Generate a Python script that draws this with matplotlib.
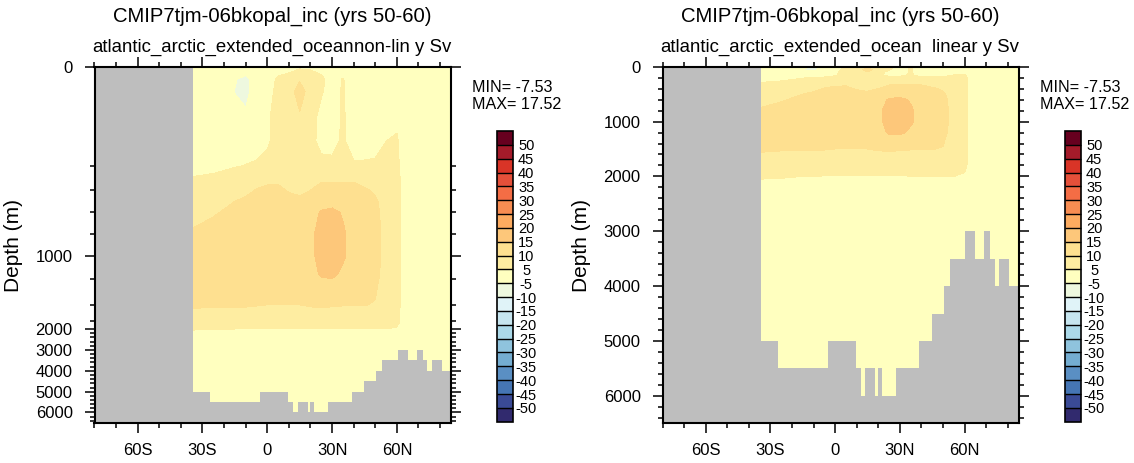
#!/usr/bin/env python3

from __future__ import annotations

import numpy as np
import matplotlib
matplotlib.use("Agg")
import matplotlib.pyplot as plt
from matplotlib.colors import ListedColormap, BoundaryNorm


W, H = 1134, 463

TITLE = "CMIP7tjm-06bkopal_inc (yrs 50-60)"
REGION = "atlantic_arctic_extended_ocean"
PANEL_MODES = ["non-lin y Sv", "linear y Sv"]

# contour levels and fill colours (low -> high, first/last = under/over)
levels = [-50, -45, -40, -35, -30, -25, -20, -15, -10, -5, 5, 10, 15, 20, 25, 30, 35, 40, 45, 50]
fill_colors = ["#312a6e", "#3a4a96", "#4575b4", "#5a8fc3", "#74add1", "#8fc3dd", "#abd9e9",
               "#c6e5ef", "#e0f3f8", "#eef8df", "#ffffbf", "#feeda1", "#fee090", "#fdc77a",
               "#fcab60", "#f88d52", "#f46d45", "#e5503a", "#d93427", "#a51b2a", "#67001f"]

# overturning streamfunction (Sv), one depth profile per latitude
lats = [-35, -25, -15, -10, -5, 0, 5, 10, 15, 20, 25, 30, 35, 40, 45, 50, 55, 60, 65, 85]
depths = [0, 25, 50, 100, 150, 200, 300, 400, 500, 600, 800, 1000, 1200, 1500, 1800, 2000, 2200, 2600, 4000, 6500]
psi_by_lat = [
    [0, 0.5, 1, 1.5, 2.5, 3.0, 5.3, 6.5, 7.5, 8.5, 10.5, 12, 12, 10.5, 8, 5.5, 3.5, 2, 1, 0.5],
    [0, 0.5, 1, 2, 2.5, 3.5, 6, 7.5, 8.5, 9.6, 11.5, 12.5, 12.5, 10.2, 8.5, 5.3, 3.5, 2, 1, 0.5],
    [0, -4.5, -5.2, -3, 2, 4.8, 7, 8.5, 10, 11, 12.5, 13, 13, 10.2, 8.5, 5, 3.5, 2, 1, 0.5],
    [0, -7, -7.53, -3.5, 2.5, 5.2, 7.5, 9.2, 10.6, 11.5, 13, 13.2, 13, 10.2, 8.5, 5, 3.5, 2, 1, 0.5],
    [0, -2, -1, 1.5, 3.5, 5.5, 8.5, 10.2, 11.5, 12, 13.5, 13.5, 13, 10.1, 8.5, 4.8, 3.5, 2, 1, 0.5],
    [0, 2, 3, 4.2, 4.5, 6, 9, 10.8, 11.8, 12.3, 13.5, 14, 13.5, 10, 8.3, 4.6, 3.5, 2, 1, 0.5],
    [2, 6, 6.5, 7, 6.5, 7, 9.5, 10.5, 11.5, 12.5, 14, 14.5, 14, 10, 8.3, 4.6, 3.5, 2, 1, 0.5],
    [3, 7, 8, 7.5, 7, 7.5, 9, 9.8, 10.8, 12, 14, 14.5, 14, 10, 8.3, 4.7, 3.5, 2, 1, 0.5],
    [4, 9.5, 12, 9.5, 8, 8, 8.5, 9.5, 10.5, 12, 14, 14.5, 14, 10, 8.3, 4.7, 3.5, 2, 1, 0.5],
    [4, 8, 8, 7, 6, 6.5, 9, 10, 11.5, 13, 13.5, 13.5, 13.5, 10.2, 8.3, 4.8, 3.5, 2, 1, 0.5],
    [3, 6, 5.5, 3.5, 4, 6, 9.5, 11, 13, 15.5, 17.52, 17.2, 15.5, 10.3, 8.3, 4.8, 3.5, 2, 1, 0.5],
    [1.5, 3, 3, 3, 4, 5.8, 9.5, 11, 13.5, 16, 17.5, 17.3, 15.8, 10.2, 8.3, 4.8, 3.5, 2, 1, 0.5],
    [1, 5.3, 5.5, 5.5, 5.5, 7, 9.5, 11, 12.5, 14.6, 15.6, 15.6, 14.2, 10.1, 8.3, 4.9, 3.5, 2, 1, 0.5],
    [0.5, 2, 2.5, 3, 3.5, 5.5, 9.6, 10.8, 12, 13, 13.5, 13.5, 13.2, 10.1, 8.3, 4.9, 3.5, 2, 1, 0.5],
    [0.5, 1.5, 2, 2.5, 3.5, 5.5, 8.5, 10.5, 11.5, 12.5, 13, 13, 12.5, 10.1, 8, 5, 3.5, 2, 1, 0.5],
    [0.5, 1, 1.5, 2.5, 4, 5.5, 7.5, 9.5, 10.5, 11, 11.5, 11.5, 11, 9.8, 7.5, 5, 3.5, 2, 1, 0.5],
    [0.5, 1, 1.5, 3, 5, 6, 7, 8, 8.5, 8.5, 8.5, 8.5, 8.5, 8, 7, 5, 3.5, 2, 1, 0.5],
    [0.5, 1, 1.5, 4, 5.5, 6, 6.5, 6.5, 6.5, 6.5, 6.5, 6.5, 6.5, 6.5, 6, 4.5, 3, 2, 1, 0.5],
    [0.5, 0.5, 1, 1.5, 1.5, 1.5, 1.5, 1.5, 1.5, 1.5, 1.5, 1.5, 1.5, 1.5, 1.5, 1, 1, 1, 0.5, 0.5],
    [0.5, 0.5, 0.5, 0.5, 0.5, 0.5, 0.5, 0.5, 0.5, 0.5, 0.5, 0.5, 0.5, 0.5, 0.5, 0.5, 0.5, 0.5, 0.5, 0.5],
]

# sea floor / land mask as steps
bathy_edges = [-80, -34.4, -26.4, -3.2, 9.8, 12.0, 14.0, 18.7, 19.9, 21.7, 28.2, 39.1, 44.9,
               50.3, 53.3, 60.4, 65.0, 69.1, 72.0, 74.1, 76.1, 80.8, 85]
bathy_depth = [0, 5000, 5500, 5000, 5500, 6000, 5500, 6000, 5500, 6000, 5500, 5000, 4500,
               4000, 3500, 3000, 3500, 3000, 3500, 4000, 3500, 4000]

lat_ticks = [-60, -30, 0, 30, 60]
lat_labels = ["60S", "30S", "0", "30N", "60N"]
depth_ticks = [0, 1000, 2000, 3000, 4000, 5000, 6000]

# axis stretch for the non-linear panel (depth -> pixels from top)
stretch_depth = [-1000, 0, 200, 400, 600, 800, 1000, 1250, 1500, 1750, 2000, 3000, 4000, 5000, 6000, 6500, 100000]
stretch_px = [-498, 0, 99.6, 123.6, 145.7, 167.5, 189, 212.5, 238.1, 254.2, 262.3, 283.3, 304, 325, 345.6, 356.6, 2223]

GRAY = "#bebebe"
FONT = "Liberation Sans"


def box(x0, y0, x1, y1):
    return [x0 / W, 1 - y1 / H, (x1 - x0) / W, (y1 - y0) / H]


def fxy(px, py):
    return px / W, 1 - py / H


def draw_panel(fig, ax_box, cb_box, mode, nonlin):
    ax = fig.add_axes(box(*ax_box))
    cax = fig.add_axes(box(*cb_box))

    if nonlin:
        fwd = lambda d: np.interp(d, stretch_depth, stretch_px)
        inv = lambda p: np.interp(p, stretch_px, stretch_depth)
        ax.set_yscale("function", functions=(fwd, inv))

    psi = np.array(psi_by_lat).T
    cmap = ListedColormap(fill_colors[1:-1]).with_extremes(under=fill_colors[0], over=fill_colors[-1])
    norm = BoundaryNorm(levels, cmap.N)
    cf = ax.contourf(lats, depths, psi, levels=levels, cmap=cmap, norm=norm, extend="both")
    ax.stairs(bathy_depth, bathy_edges, baseline=6500, fill=True, color=GRAY, linewidth=0, zorder=2)

    ax.set_xlim(-80, 85)
    ax.set_ylim(6500, 0)
    ax.set_xticks(lat_ticks, lat_labels)
    ax.set_xticks([v for v in range(-80, 90, 10) if v not in lat_ticks], minor=True)
    ax.set_yticks(depth_ticks, [str(d) for d in depth_ticks])
    if nonlin:
        minor = [200, 400, 600, 800, 1250, 1500, 1750] + [d for d in range(2200, 6500, 200) if d % 1000]
    else:
        minor = [d for d in range(200, 6500, 200) if d % 1000]
    ax.set_yticks(minor, minor=True)
    ax.tick_params(which="both", direction="out", top=True, right=True, width=1.1, labelsize=12)
    ax.tick_params(which="major", length=7.2)
    ax.tick_params(which="minor", length=3.6)
    ax.tick_params(axis="y", pad=8.5)
    ax.tick_params(axis="x", pad=7.0)
    for s in ax.spines.values():
        s.set_linewidth(1.5)

    cb = fig.colorbar(cf, cax=cax, extend="both", extendrect=True, extendfrac=1 / 19, drawedges=True)
    cb.set_ticks(levels, labels=[str(v) for v in levels])
    cb.outline.set_linewidth(1.2)
    cb.dividers.set_color("black")
    cb.dividers.set_linewidth(1.0)
    cax.tick_params(length=0, pad=9.5, labelsize=10.5)
    for lbl in cax.get_yticklabels():
        lbl.set_horizontalalignment("center")

    x0, y0, x1, y1 = ax_box
    fig.text(*fxy((x0 + x1) / 2, 21.5), TITLE, ha="center", va="baseline", fontsize=14.6)
    fig.text(*fxy(x0 - 2, 52.0), REGION, ha="left", va="baseline", fontsize=13.4)
    fig.text(*fxy(x1, 52.0), mode, ha="right", va="baseline", fontsize=13.4)
    fig.text(*fxy(x1 + 21, 91.7), f"MIN= {psi.min():.2f}", ha="left", va="baseline", fontsize=11.6)
    fig.text(*fxy(x1 + 21, 109.3), f"MAX= {psi.max():.2f}", ha="left", va="baseline", fontsize=11.6)
    fig.text(*fxy(x0 - 81, (y0 + y1) / 2), "Depth (m)", rotation=90, ha="center", va="center", fontsize=15)


def main() -> None:
    plt.rcParams.update({"font.family": [FONT, "DejaVu Sans"], "figure.facecolor": "white"})
    fig = plt.figure(figsize=(W / 100, H / 100), dpi=100)
    draw_panel(fig, (94.5, 66.7, 450.9, 423.3), (497, 131, 513, 421.7), PANEL_MODES[0], True)
    draw_panel(fig, (662.5, 66.7, 1018.5, 423.3), (1065, 131, 1081, 421.7), PANEL_MODES[1], False)
    fig.savefig("out.png", dpi=100)


if __name__ == "__main__":
    main()
